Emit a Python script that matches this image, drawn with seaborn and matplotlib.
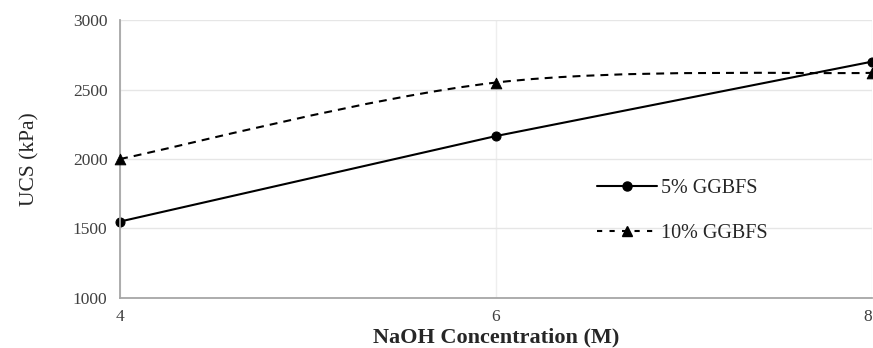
import numpy as np
import pandas as pd
import seaborn as sns
import matplotlib.pyplot as plt
from matplotlib.path import Path
from matplotlib.patches import PathPatch
from matplotlib.lines import Line2D

# data
naoh_m = [4, 6, 8]
ucs_5pct = [1550, 2165, 2700]
ucs_10pct = [2000, 2550, 2620]
labels = ['5% GGBFS', '10% GGBFS']

df = pd.DataFrame({'NaOH': naoh_m, '5%': ucs_5pct, '10%': ucs_10pct})

sns.set_theme(style='white')
plt.rcParams['font.family'] = ['Liberation Serif', 'DejaVu Serif']

fig = plt.figure(figsize=(8.73, 3.48), dpi=100)
ax = fig.add_axes([0.1375, 0.1437, 0.861, 0.7988])

# 5% GGBFS: straight line with round markers
sns.lineplot(data=df, x='NaOH', y='5%', ax=ax, color='black', linewidth=1.5,
             marker='o', markersize=6.5, markeredgecolor='black', clip_on=False)

# 10% GGBFS: Excel style smoothed dashed curve through the points
pts = df[['NaOH', '10%']].to_numpy(dtype=float)
padded = np.vstack([pts[:1], pts, pts[-1:]])
verts = [pts[0]]
codes = [Path.MOVETO]
for i in range(len(pts) - 1):
    c1 = pts[i] + (padded[i + 2] - padded[i]) / 6
    c2 = pts[i + 1] - (padded[i + 3] - padded[i + 1]) / 6
    verts += [c1, c2, pts[i + 1]]
    codes += [Path.CURVE4] * 3
curve = PathPatch(Path(verts, codes), fill=False, edgecolor='black', linewidth=1.5,
                  linestyle=(0, (3.8, 2.9)))
ax.add_patch(curve)
sns.scatterplot(data=df, x='NaOH', y='10%', ax=ax, color='black', marker='^', s=60,
                edgecolor='black', zorder=5, clip_on=False)

ax.set_xlim(4, 8)
ax.set_ylim(1000, 3000)
ax.set_xticks(naoh_m)
ax.set_yticks(range(1000, 3001, 500))
ax.grid(axis='y', color='#e6e6e6', linewidth=1)
ax.grid(axis='x', color='#eeeeee', linewidth=1)
for s in ['top', 'right']:
    ax.spines[s].set_visible(False)
for s in ['left', 'bottom']:
    ax.spines[s].set_color('#a6a6a6')
    ax.spines[s].set_linewidth(1.3)
ax.tick_params(length=0, labelsize=12.5, colors='#404040')
ax.tick_params(axis='y', pad=9)
ax.tick_params(axis='x', pad=8)
ax.get_xticklabels()[-1].set_horizontalalignment('right')

ax.set_xlabel('NaOH Concentration (M)', fontsize=16, fontweight='bold', labelpad=2)
ax.set_ylabel('UCS (kPa)', fontsize=15.5, labelpad=24)

handles = [
    Line2D([], [], color='black', linewidth=1.5, marker='o', markersize=6.5),
    Line2D([], [], color='black', linewidth=1.5, linestyle=(0, (2.5, 3.5)), marker='^', markersize=7.5),
]
ax.legend(handles, labels, loc='center left', bbox_to_anchor=(0.634, 0.313), frameon=False,
          fontsize=14.5, handlelength=3.0, handletextpad=0.2, labelspacing=1.3,
          borderpad=0, borderaxespad=0)

fig.savefig('out.png', dpi=100)
